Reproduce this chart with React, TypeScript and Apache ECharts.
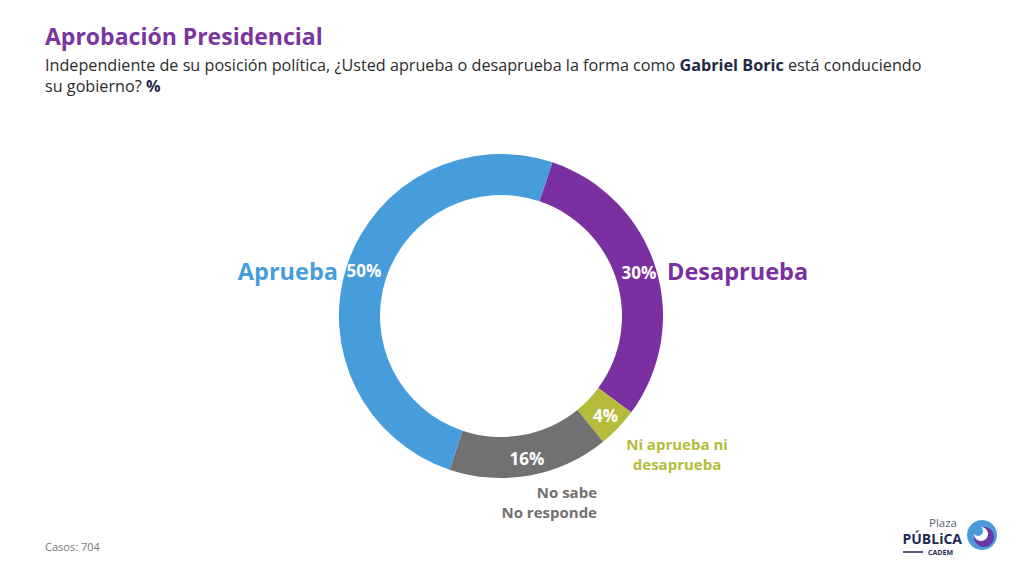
import React, { useEffect, useRef } from 'react';
import * as echarts from 'echarts';

const categories = ['Desaprueba', 'Ni aprueba ni desaprueba', 'No sabe No responde', 'Aprueba'];
const values = [30, 4, 16, 50];
const colors = ['#7A30A0', '#B5BB3B', '#717171', '#479DDB'];

const FONT = '"Open Sans", "Noto Sans", sans-serif';

const App: React.FC = () => {
  const chartRef = useRef<HTMLDivElement>(null);

  useEffect(() => {
    const chart = echarts.init(chartRef.current!, undefined, { renderer: 'svg' });

    const smallLabel = (text: string, x: number, y: number, color: string, align: string) => ({
      type: 'text',
      x,
      y,
      style: { text, fill: color, font: `bold 15px ${FONT}`, align, verticalAlign: 'middle' },
    });

    const subtitleLine = (text: string, y: number) => ({
      type: 'text',
      x: 45,
      y,
      style: {
        text,
        fill: '#2b2b2b',
        font: `16.2px ${FONT}`,
        verticalAlign: 'middle',
        rich: {
          b: { fontWeight: 'bold', fill: '#1E2A45', fontSize: 16.2, fontFamily: FONT },
        },
      },
    });

    const options: any = {
      animation: false,
      backgroundColor: '#ffffff',
      series: [
        {
          type: 'pie',
          center: [501, 316],
          radius: [121, 162],
          startAngle: 71.5,
          clockwise: true,
          silent: true,
          label: {
            show: true,
            position: 'inside',
            formatter: '{c}%',
            color: '#ffffff',
            fontFamily: FONT,
            fontWeight: 'bold',
            fontSize: 17,
          },
          labelLine: { show: false },
          data: categories.map((name, i) => ({
            name,
            value: values[i],
            itemStyle: { color: colors[i] },
          })),
        },
      ],
      graphic: [
        {
          type: 'text',
          x: 45,
          y: 36,
          style: {
            text: 'Aprobación Presidencial',
            fill: '#7A35A0',
            font: `bold 23px ${FONT}`,
            verticalAlign: 'middle',
          },
        },
        subtitleLine(
          'Independiente de su posición política, ¿Usted aprueba o desaprueba la forma como {b|Gabriel Boric} está conduciendo',
          65
        ),
        subtitleLine('su gobierno? {b|%}', 86),
        {
          type: 'text',
          x: 338,
          y: 271,
          style: {
            text: categories[3],
            fill: colors[3],
            font: `bold 23.5px ${FONT}`,
            align: 'right',
            verticalAlign: 'middle',
          },
        },
        {
          type: 'text',
          x: 667,
          y: 271,
          style: {
            text: categories[0],
            fill: colors[0],
            font: `bold 23.5px ${FONT}`,
            align: 'left',
            verticalAlign: 'middle',
          },
        },
        smallLabel('Ni aprueba ni', 677, 443.5, colors[1], 'center'),
        smallLabel('desaprueba', 677, 463.5, colors[1], 'center'),
        smallLabel('No sabe', 597, 491.5, colors[2], 'right'),
        smallLabel('No responde', 597, 511.5, colors[2], 'right'),
        {
          type: 'text',
          x: 45,
          y: 546,
          style: {
            text: 'Casos: 704',
            fill: '#777777',
            font: `11px ${FONT}`,
            verticalAlign: 'middle',
          },
        },
        // logo
        {
          type: 'group',
          x: 900,
          y: 513,
          children: [
            { type: 'text', x: 57, y: 9, style: { text: 'Plaza', fill: '#5A6378', font: `11.5px ${FONT}`, align: 'right', verticalAlign: 'middle' } },
            { type: 'text', x: 62, y: 25, style: { text: 'PÚBLiCA', fill: '#1F2A55', font: `bold 14px ${FONT}`, align: 'right', verticalAlign: 'middle' } },
            { type: 'line', shape: { x1: 3, y1: 39, x2: 23, y2: 39 }, style: { stroke: '#1F2A55', lineWidth: 1.5 } },
            { type: 'text', x: 28, y: 39.5, style: { text: 'CADEM', fill: '#1F2A55', font: `bold 7px ${FONT}`, verticalAlign: 'middle' } },
            { type: 'circle', shape: { cx: 82, cy: 22, r: 15 }, style: { fill: '#4A9BDB' } },
            { type: 'circle', shape: { cx: 84, cy: 24, r: 10 }, style: { fill: '#6A37A8' } },
            { type: 'circle', shape: { cx: 81, cy: 21, r: 7 }, style: { fill: '#ffffff' } },
            { type: 'circle', shape: { cx: 78, cy: 18, r: 5 }, style: { fill: '#4A9BDB' } },
          ],
        },
      ],
    };

    chart.setOption(options);

    return () => {
      chart.dispose();
    };
  }, []);

  return (
    <div
      ref={chartRef}
      style={{ position: 'fixed', left: 0, top: 0, width: '1024px', height: '566px' }}
    />
  );
};

export default App;
